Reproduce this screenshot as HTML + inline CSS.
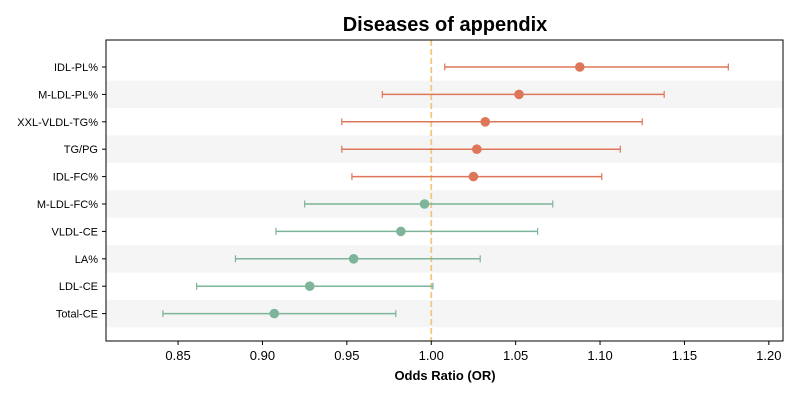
<!DOCTYPE html>
<html><head><meta charset="utf-8"><style>
body{margin:0;background:#fff;font-family:"Liberation Sans",sans-serif}
svg text{font-family:"Liberation Sans",sans-serif}
</style></head><body>
<svg id="chart" width="800" height="400" xmlns="http://www.w3.org/2000/svg">
<text x="445" y="31" text-anchor="middle" font-size="20" font-weight="bold" fill="#000">Diseases of appendix</text>
<g id="bands"></g><g id="ref"></g><g id="marks"></g><g id="axes"></g>
<text x="445" y="380" text-anchor="middle" font-size="13" font-weight="bold">Odds Ratio (OR)</text>
</svg>
<script>
const categories=["IDL-PL%","M-LDL-PL%","XXL-VLDL-TG%","TG/PG","IDL-FC%","M-LDL-FC%","VLDL-CE","LA%","LDL-CE","Total-CE"];
const orValues=[1.088,1.052,1.032,1.027,1.025,0.996,0.982,0.954,0.928,0.907];
const lowerCI=[1.008,0.971,0.947,0.947,0.953,0.925,0.908,0.884,0.861,0.841];
const upperCI=[1.176,1.138,1.125,1.112,1.101,1.072,1.063,1.029,1.001,0.979];
const xTicks=[0.85,0.90,0.95,1.00,1.05,1.10,1.15,1.20];
const NS="http://www.w3.org/2000/svg";
const L=106,R=783,T=40,B=341,xMin=0.8073,xMax=1.2084;
const x=v=>L+(v-xMin)/(xMax-xMin)*(R-L);
const y0=67,step=27.4;
const y=i=>y0+i*step;
function mk(t,a,p){const e=document.createElementNS(NS,t);for(const k in a)e.setAttribute(k,a[k]);p.appendChild(e);return e;}
const bands=document.getElementById('bands'),marks=document.getElementById('marks'),axes=document.getElementById('axes'),ref=document.getElementById('ref');
categories.forEach((c,i)=>{
 if(i%2===1){const b=mk('rect',{x:L,y:y(i)-step/2,width:R-L,height:step,fill:'#f5f5f5'},bands);
 
 }
 const col=orValues[i]>=1?'#de7659':'#7db49a';
 const g=mk('g',{},marks);
 
 
 mk('line',{x1:x(lowerCI[i]),x2:x(upperCI[i]),y1:y(i),y2:y(i),stroke:col,'stroke-width':1.5},g);
 mk('line',{x1:x(lowerCI[i]),x2:x(lowerCI[i]),y1:y(i)-3.5,y2:y(i)+3.5,stroke:col,'stroke-width':1.2},g);
 mk('line',{x1:x(upperCI[i]),x2:x(upperCI[i]),y1:y(i)-3.5,y2:y(i)+3.5,stroke:col,'stroke-width':1.2},g);
 mk('circle',{cx:x(orValues[i]),cy:y(i),r:4.8,fill:col},g);
 mk('line',{x1:L-4,x2:L,y1:y(i),y2:y(i),stroke:'#000'},axes);
 const t=mk('text',{x:L-8,y:y(i)+4,'text-anchor':'end','font-size':11},axes);t.textContent=c;
 
 
});
const rl=mk('line',{x1:x(1),x2:x(1),y1:T,y2:B,stroke:'#f2c77a','stroke-width':1.8,'stroke-dasharray':'6,3'},ref);


xTicks.forEach(v=>{
 mk('line',{x1:x(v),x2:x(v),y1:B,y2:B+4,stroke:'#000'},axes);
 const t=mk('text',{x:x(v),y:B+19,'text-anchor':'middle','font-size':13},axes);t.textContent=v.toFixed(2);
 
 
});
const fr=mk('rect',{x:L,y:T,width:R-L,height:B-T,fill:'none',stroke:'#000','stroke-width':1},axes);


</script>
</body></html>
